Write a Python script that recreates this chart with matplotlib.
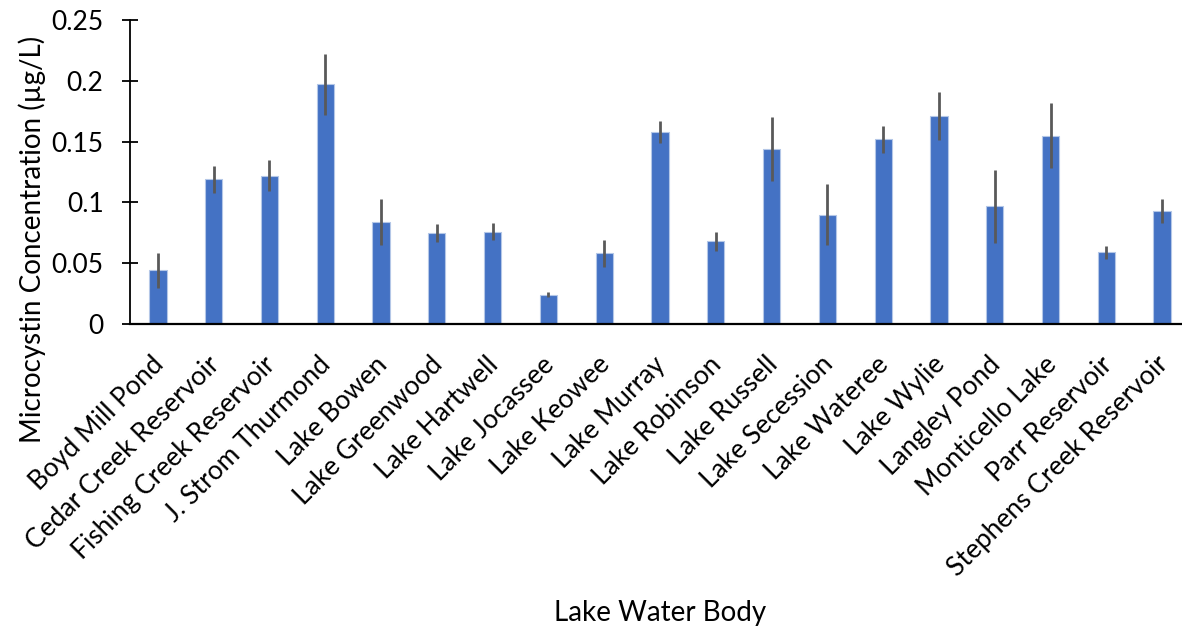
import numpy as np
import matplotlib
matplotlib.use('Agg')
from matplotlib import pyplot as plt
from matplotlib import transforms

lakes = ['Boyd Mill Pond', 'Cedar Creek Reservoir', 'Fishing Creek Reservoir',
         'J. Strom Thurmond', 'Lake Bowen', 'Lake Greenwood', 'Lake Hartwell',
         'Lake Jocassee', 'Lake Keowee', 'Lake Murray', 'Lake Robinson',
         'Lake Russell', 'Lake Secession', 'Lake Wateree', 'Lake Wylie',
         'Langley Pond', 'Monticello Lake', 'Parr Reservoir', 'Stephens Creek Reservoir']
concentration = [0.044, 0.119, 0.122, 0.197, 0.084, 0.075, 0.076, 0.024, 0.058,
                 0.158, 0.068, 0.144, 0.090, 0.152, 0.171, 0.097, 0.155, 0.059, 0.093]
error = [0.014, 0.011, 0.013, 0.025, 0.019, 0.0075, 0.007, 0.002, 0.011,
         0.009, 0.008, 0.026, 0.025, 0.011, 0.020, 0.030, 0.027, 0.0055, 0.010]
y_ticks = [0, 0.05, 0.1, 0.15, 0.2, 0.25]
y_tick_labels = ['0', '0.05', '0.1', '0.15', '0.2', '0.25']

plt.rcParams['font.family'] = ['Lato', 'DejaVu Sans']

fig = plt.figure(figsize=(11.82, 6.29), dpi=100)
ax = fig.add_axes([130 / 1182, 1 - 324 / 629, 1060 / 1182, 304 / 629])

x = np.arange(len(lakes))
ax.bar(x, concentration, width=0.31, color='#4472C4', edgecolor='#B4C7E7', linewidth=0.8,
       yerr=error, error_kw=dict(ecolor='#595959', elinewidth=2, capsize=0), zorder=2)

ax.set_xlim(-0.5, len(lakes) - 0.5)
ax.set_ylim(0, 0.25)
ax.set_yticks(y_ticks)
ax.set_yticklabels(y_tick_labels, fontsize=19)
ax.set_xticks(x)
ax.set_xticklabels(lakes, rotation=45, ha='right', rotation_mode='anchor', fontsize=19)
ax.tick_params(axis='x', length=0, pad=20)
ax.tick_params(axis='y', direction='inout', length=12, width=1.3, pad=13)

# nudge the slanted labels a little left, like the reference
shift = transforms.ScaledTranslation(-5 / 72, 0, fig.dpi_scale_trans)
for lbl in ax.get_xticklabels():
    lbl.set_transform(lbl.get_transform() + shift)

for side in ['top', 'right']:
    ax.spines[side].set_visible(False)
ax.spines['left'].set_linewidth(1.3)
ax.spines['bottom'].set_linewidth(1.6)

# axis titles placed where the reference has them
fig.text(32 / 1182, 1 - 239 / 629, 'Microcystin Concentration (µg/L)', fontsize=20,
         rotation=90, ha='center', va='center')
fig.text(660 / 1182, 1 - 613 / 629, 'Lake Water Body', fontsize=20, ha='center', va='center')

fig.savefig('out.png', dpi=100)
